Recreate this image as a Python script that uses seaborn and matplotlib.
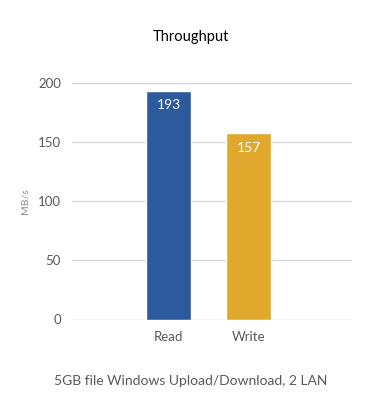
import numpy as np
import pandas as pd
import seaborn as sns
import matplotlib.pyplot as plt

# values
ops = ['Read', 'Write']
mbps = [193, 157]
bar_colors = ['#2C5A9D', '#E0A82D']

df = pd.DataFrame({'op': ops, 'mbps': mbps})

sns.set_style('white')
plt.rcParams['font.family'] = ['Lato', 'DejaVu Sans']

figure = plt.figure(figsize=(3.81, 4.20), dpi=100)
W, H = 381, 420
axis = figure.add_axes([72 / W, 1 - 319.5 / H, 280 / W, (319.5 - 82.5) / H])

sns.barplot(data=df, x='op', y='mbps', hue='op', palette=bar_colors,
            width=0.56, ax=axis, legend=False, saturation=1)

for patch, v in zip(axis.patches, mbps):
    axis.text(patch.get_x() + patch.get_width() / 2, v - 7, str(v),
              color='white', ha='center', va='top', fontsize=10)

axis.set_ylim(0, 200)
axis.set_xlim(-1.21, 2.29)
axis.set_yticks([0, 50, 100, 150, 200])
axis.yaxis.grid(True, color='#D9D9D9', linewidth=1)
axis.set_axisbelow(True)
for s in axis.spines.values():
    s.set_visible(False)
axis.tick_params(axis='both', length=0, labelsize=9.5, colors='#595959', pad=8)
axis.set_xlabel('')
axis.set_ylabel('MB/s', color='#8C8C8C', fontsize=7.5, labelpad=6)

figure.text(0.5, 1 - 37 / H, 'Throughput', ha='center', va='center',
            fontsize=10.5, color='#000000')
figure.text(0.5, 1 - 381 / H, '5GB file Windows Upload/Download, 2 LAN',
            ha='center', va='center', fontsize=10, color='#595959')

figure.savefig('out.png', dpi=100)
